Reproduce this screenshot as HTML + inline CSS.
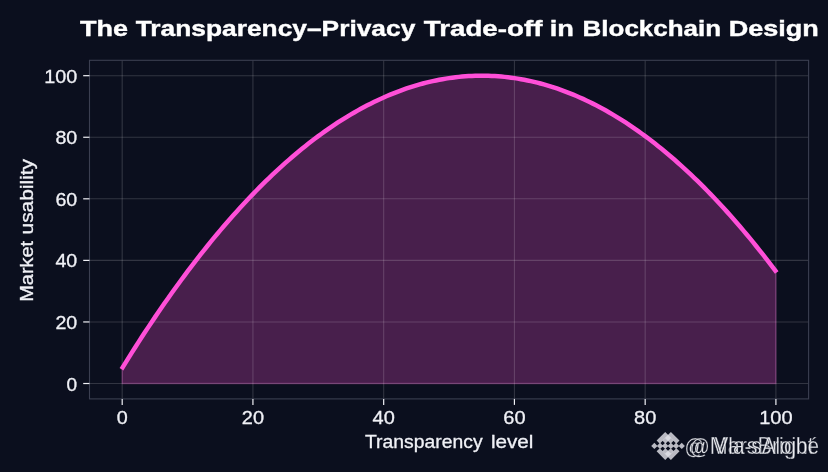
<!DOCTYPE html>
<html lang="en">
<head>
<meta charset="utf-8">
<title>The Transparency–Privacy Trade-off in Blockchain Design</title>
<style>
  html, body { margin: 0; padding: 0; background: #0b0f1e; }
  body { width: 828px; height: 472px; overflow: hidden; font-family: "Liberation Sans", sans-serif; }
  svg { display: block; will-change: transform; }
  text { font-family: "Liberation Sans", sans-serif; fill: #f0f1f6; }
  .title { font-weight: bold; font-size: 22.4px; fill: #ffffff; stroke: #ffffff; stroke-width: 0.4px; }
  .tick  { font-size: 18.5px; stroke: #f0f1f6; stroke-width: 0.3px; }
  .wm    { fill: #f2f3f7; fill-opacity: 0.92; }
  .label { font-size: 18.2px; stroke: #f0f1f6; stroke-width: 0.3px; }
</style>
</head>
<body>
<svg width="828" height="472" viewBox="0 0 828 472">
  <rect x="0" y="0" width="828" height="472" fill="#0b0f1e"/>
  <polygon points="122.19,383.51 122.19,368.12 125.46,362.83 128.72,357.58 131.99,352.39 135.26,347.24 138.53,342.14 141.80,337.09 145.07,332.08 148.34,327.13 151.60,322.22 154.87,317.37 158.14,312.56 161.41,307.80 164.68,303.08 167.95,298.42 171.22,293.80 174.48,289.24 177.75,284.72 181.02,280.24 184.29,275.82 187.56,271.45 190.83,267.12 194.10,262.84 197.37,258.62 200.63,254.43 203.90,250.30 207.17,246.22 210.44,242.18 213.71,238.19 216.98,234.25 220.25,230.36 223.51,226.52 226.78,222.73 230.05,218.98 233.32,215.28 236.59,211.63 239.86,208.03 243.13,204.48 246.39,200.98 249.66,197.52 252.93,194.11 256.20,190.75 259.47,187.44 262.74,184.18 266.01,180.96 269.27,177.80 272.54,174.68 275.81,171.61 279.08,168.59 282.35,165.62 285.62,162.69 288.89,159.82 292.16,156.99 295.42,154.21 298.69,151.48 301.96,148.80 305.23,146.16 308.50,143.58 311.77,141.04 315.04,138.55 318.30,136.11 321.57,133.72 324.84,131.37 328.11,129.08 331.38,126.83 334.65,124.63 337.92,122.48 341.19,120.38 344.45,118.32 347.72,116.32 350.99,114.36 354.26,112.45 357.53,110.59 360.80,108.78 364.07,107.01 367.33,105.30 370.60,103.63 373.87,102.01 377.14,100.44 380.41,98.92 383.68,97.44 386.95,96.02 390.21,94.64 393.48,93.31 396.75,92.03 400.02,90.80 403.29,89.61 406.56,88.48 409.83,87.39 413.10,86.35 416.36,85.36 419.63,84.42 422.90,83.52 426.17,82.68 429.44,81.88 432.71,81.13 435.98,80.43 439.24,79.78 442.51,79.17 445.78,78.62 449.05,78.11 452.32,77.65 455.59,77.24 458.86,76.88 462.12,76.56 465.39,76.30 468.66,76.08 471.93,75.91 475.20,75.79 478.47,75.72 481.74,75.69 485.01,75.72 488.27,75.79 491.54,75.91 494.81,76.08 498.08,76.30 501.35,76.56 504.62,76.88 507.89,77.24 511.15,77.65 514.42,78.11 517.69,78.62 520.96,79.17 524.23,79.78 527.50,80.43 530.77,81.13 534.03,81.88 537.30,82.68 540.57,83.52 543.84,84.42 547.11,85.36 550.38,86.35 553.65,87.39 556.91,88.48 560.18,89.61 563.45,90.80 566.72,92.03 569.99,93.31 573.26,94.64 576.53,96.02 579.80,97.44 583.06,98.92 586.33,100.44 589.60,102.01 592.87,103.63 596.14,105.30 599.41,107.01 602.68,108.78 605.94,110.59 609.21,112.45 612.48,114.36 615.75,116.32 619.02,118.32 622.29,120.38 625.56,122.48 628.83,124.63 632.09,126.83 635.36,129.08 638.63,131.37 641.90,133.72 645.17,136.11 648.44,138.55 651.71,141.04 654.97,143.58 658.24,146.16 661.51,148.80 664.78,151.48 668.05,154.21 671.32,156.99 674.59,159.82 677.85,162.69 681.12,165.62 684.39,168.59 687.66,171.61 690.93,174.68 694.20,177.80 697.47,180.96 700.74,184.18 704.00,187.44 707.27,190.75 710.54,194.11 713.81,197.52 717.08,200.98 720.35,204.48 723.62,208.03 726.88,211.63 730.15,215.28 733.42,218.98 736.69,222.73 739.96,226.52 743.23,230.36 746.50,234.25 749.76,238.19 753.03,242.18 756.30,246.22 759.57,250.30 762.84,254.43 766.11,258.62 769.38,262.84 772.64,267.12 775.91,271.45 775.91,383.51" fill="#ff4fd8" fill-opacity="0.25" stroke="#ff4fd8" stroke-opacity="0.25" stroke-width="1.3"/>
  <g stroke="rgba(255,255,255,0.16)" stroke-width="1.1" fill="none">
    <line x1="122.19" y1="60.3" x2="122.19" y2="398.9"/>
    <line x1="252.93" y1="60.3" x2="252.93" y2="398.9"/>
    <line x1="383.68" y1="60.3" x2="383.68" y2="398.9"/>
    <line x1="514.42" y1="60.3" x2="514.42" y2="398.9"/>
    <line x1="645.17" y1="60.3" x2="645.17" y2="398.9"/>
    <line x1="775.91" y1="60.3" x2="775.91" y2="398.9"/>
    <line x1="89.5" y1="383.51" x2="808.6" y2="383.51"/>
    <line x1="89.5" y1="321.95" x2="808.6" y2="321.95"/>
    <line x1="89.5" y1="260.38" x2="808.6" y2="260.38"/>
    <line x1="89.5" y1="198.82" x2="808.6" y2="198.82"/>
    <line x1="89.5" y1="137.25" x2="808.6" y2="137.25"/>
    <line x1="89.5" y1="75.69" x2="808.6" y2="75.69"/>
  </g>
  <polyline points="121.50,369.22 122.19,368.12 125.46,362.83 128.72,357.58 131.99,352.39 135.26,347.24 138.53,342.14 141.80,337.09 145.07,332.08 148.34,327.13 151.60,322.22 154.87,317.37 158.14,312.56 161.41,307.80 164.68,303.08 167.95,298.42 171.22,293.80 174.48,289.24 177.75,284.72 181.02,280.24 184.29,275.82 187.56,271.45 190.83,267.12 194.10,262.84 197.37,258.62 200.63,254.43 203.90,250.30 207.17,246.22 210.44,242.18 213.71,238.19 216.98,234.25 220.25,230.36 223.51,226.52 226.78,222.73 230.05,218.98 233.32,215.28 236.59,211.63 239.86,208.03 243.13,204.48 246.39,200.98 249.66,197.52 252.93,194.11 256.20,190.75 259.47,187.44 262.74,184.18 266.01,180.96 269.27,177.80 272.54,174.68 275.81,171.61 279.08,168.59 282.35,165.62 285.62,162.69 288.89,159.82 292.16,156.99 295.42,154.21 298.69,151.48 301.96,148.80 305.23,146.16 308.50,143.58 311.77,141.04 315.04,138.55 318.30,136.11 321.57,133.72 324.84,131.37 328.11,129.08 331.38,126.83 334.65,124.63 337.92,122.48 341.19,120.38 344.45,118.32 347.72,116.32 350.99,114.36 354.26,112.45 357.53,110.59 360.80,108.78 364.07,107.01 367.33,105.30 370.60,103.63 373.87,102.01 377.14,100.44 380.41,98.92 383.68,97.44 386.95,96.02 390.21,94.64 393.48,93.31 396.75,92.03 400.02,90.80 403.29,89.61 406.56,88.48 409.83,87.39 413.10,86.35 416.36,85.36 419.63,84.42 422.90,83.52 426.17,82.68 429.44,81.88 432.71,81.13 435.98,80.43 439.24,79.78 442.51,79.17 445.78,78.62 449.05,78.11 452.32,77.65 455.59,77.24 458.86,76.88 462.12,76.56 465.39,76.30 468.66,76.08 471.93,75.91 475.20,75.79 478.47,75.72 481.74,75.69 485.01,75.72 488.27,75.79 491.54,75.91 494.81,76.08 498.08,76.30 501.35,76.56 504.62,76.88 507.89,77.24 511.15,77.65 514.42,78.11 517.69,78.62 520.96,79.17 524.23,79.78 527.50,80.43 530.77,81.13 534.03,81.88 537.30,82.68 540.57,83.52 543.84,84.42 547.11,85.36 550.38,86.35 553.65,87.39 556.91,88.48 560.18,89.61 563.45,90.80 566.72,92.03 569.99,93.31 573.26,94.64 576.53,96.02 579.80,97.44 583.06,98.92 586.33,100.44 589.60,102.01 592.87,103.63 596.14,105.30 599.41,107.01 602.68,108.78 605.94,110.59 609.21,112.45 612.48,114.36 615.75,116.32 619.02,118.32 622.29,120.38 625.56,122.48 628.83,124.63 632.09,126.83 635.36,129.08 638.63,131.37 641.90,133.72 645.17,136.11 648.44,138.55 651.71,141.04 654.97,143.58 658.24,146.16 661.51,148.80 664.78,151.48 668.05,154.21 671.32,156.99 674.59,159.82 677.85,162.69 681.12,165.62 684.39,168.59 687.66,171.61 690.93,174.68 694.20,177.80 697.47,180.96 700.74,184.18 704.00,187.44 707.27,190.75 710.54,194.11 713.81,197.52 717.08,200.98 720.35,204.48 723.62,208.03 726.88,211.63 730.15,215.28 733.42,218.98 736.69,222.73 739.96,226.52 743.23,230.36 746.50,234.25 749.76,238.19 753.03,242.18 756.30,246.22 759.57,250.30 762.84,254.43 766.11,258.62 769.38,262.84 772.64,267.12 775.91,271.45 776.70,272.49" fill="none" stroke="#ff4fd8" stroke-width="4.5" stroke-linecap="butt" stroke-linejoin="round"/>
  <rect x="89.5" y="60.3" width="719.10" height="338.60" fill="none" stroke="#3b3f51" stroke-width="1.1"/>
  <g stroke="#f0f1f6" stroke-width="1.2">
    <line x1="122.19" y1="398.9" x2="122.19" y2="404.9"/>
    <line x1="252.93" y1="398.9" x2="252.93" y2="404.9"/>
    <line x1="383.68" y1="398.9" x2="383.68" y2="404.9"/>
    <line x1="514.42" y1="398.9" x2="514.42" y2="404.9"/>
    <line x1="645.17" y1="398.9" x2="645.17" y2="404.9"/>
    <line x1="775.91" y1="398.9" x2="775.91" y2="404.9"/>
    <line x1="83.2" y1="383.51" x2="89.5" y2="383.51"/>
    <line x1="83.2" y1="321.95" x2="89.5" y2="321.95"/>
    <line x1="83.2" y1="260.38" x2="89.5" y2="260.38"/>
    <line x1="83.2" y1="198.82" x2="89.5" y2="198.82"/>
    <line x1="83.2" y1="137.25" x2="89.5" y2="137.25"/>
    <line x1="83.2" y1="75.69" x2="89.5" y2="75.69"/>
  </g>
  <text class="tick" x="122.19" y="424.2" text-anchor="middle" textLength="11.0" lengthAdjust="spacingAndGlyphs">0</text>
  <text class="tick" x="252.93" y="424.2" text-anchor="middle" textLength="22.2" lengthAdjust="spacingAndGlyphs">20</text>
  <text class="tick" x="383.68" y="424.2" text-anchor="middle" textLength="22.2" lengthAdjust="spacingAndGlyphs">40</text>
  <text class="tick" x="514.42" y="424.2" text-anchor="middle" textLength="22.2" lengthAdjust="spacingAndGlyphs">60</text>
  <text class="tick" x="645.17" y="424.2" text-anchor="middle" textLength="22.2" lengthAdjust="spacingAndGlyphs">80</text>
  <text class="tick" x="775.91" y="424.2" text-anchor="middle" textLength="33.4" lengthAdjust="spacingAndGlyphs">100</text>
  <text class="tick" x="77.2" y="390.61" text-anchor="end" textLength="10.6" lengthAdjust="spacingAndGlyphs">0</text>
  <text class="tick" x="77.2" y="329.05" text-anchor="end" textLength="21.8" lengthAdjust="spacingAndGlyphs">20</text>
  <text class="tick" x="77.2" y="267.48" text-anchor="end" textLength="21.8" lengthAdjust="spacingAndGlyphs">40</text>
  <text class="tick" x="77.2" y="205.92" text-anchor="end" textLength="21.8" lengthAdjust="spacingAndGlyphs">60</text>
  <text class="tick" x="77.2" y="144.35" text-anchor="end" textLength="21.8" lengthAdjust="spacingAndGlyphs">80</text>
  <text class="tick" x="77.2" y="82.79" text-anchor="end" textLength="33.0" lengthAdjust="spacingAndGlyphs">100</text>
  <text class="label" y="447.5"><tspan x="364.9" textLength="117.7" lengthAdjust="spacingAndGlyphs">Transparency</tspan> <tspan x="490.9" textLength="42.5" lengthAdjust="spacingAndGlyphs">level</tspan></text>
  <text class="label" transform="translate(32.8 300.4) rotate(-90)" y="0"><tspan x="-1.4" textLength="60.9" lengthAdjust="spacingAndGlyphs">Market</tspan> <tspan x="66.0" textLength="75.3" lengthAdjust="spacingAndGlyphs">usability</tspan></text>
  <text class="title" y="36.2"><tspan x="80.0" textLength="48.0" lengthAdjust="spacingAndGlyphs">The</tspan> <tspan x="135.7" textLength="279.6" lengthAdjust="spacingAndGlyphs">Transparency–Privacy</tspan> <tspan x="423.8" textLength="118.6" lengthAdjust="spacingAndGlyphs">Trade-off</tspan> <tspan x="549.8" textLength="24.2" lengthAdjust="spacingAndGlyphs">in</tspan> <tspan x="582.6" textLength="138.5" lengthAdjust="spacingAndGlyphs">Blockchain</tspan> <tspan x="728.7" textLength="90.2" lengthAdjust="spacingAndGlyphs">Design</tspan> </text>
  <g id="watermark">
    <g fill="#e0e1e8" fill-opacity="0.82">
      <path transform="translate(651.2 431.9) scale(0.2212)" d="M38.73 53.2l24.59-24.58 24.6 24.6 14.3-14.31L63.32 0l-38.9 38.9zM0 63.31l14.3-14.31 14.31 14.31-14.31 14.3zM38.73 73.41l24.59 24.59 24.6-24.6 14.31 14.29-38.9 38.91-38.91-38.88zM98 63.31l14.3-14.31 14.31 14.3-14.31 14.32zM77.83 63.3L63.32 48.78 52.59 59.51l-1.24 1.23-2.54 2.54 14.51 14.5 14.51-14.47z"/>
      <path transform="translate(656.9 431.9) scale(0.2212)" d="M38.73 53.2l24.59-24.58 24.6 24.6 14.3-14.31L63.32 0l-38.9 38.9zM0 63.31l14.3-14.31 14.31 14.31-14.31 14.3zM38.73 73.41l24.59 24.59 24.6-24.6 14.31 14.29-38.9 38.91-38.91-38.88zM98 63.31l14.3-14.31 14.31 14.3-14.31 14.32zM77.83 63.3L63.32 48.78 52.59 59.51l-1.24 1.23-2.54 2.54 14.51 14.5 14.51-14.47z"/>
    </g>
    <g font-size="23.6" stroke="#0b0f1e" stroke-width="0.35" stroke-opacity="0.8">
      <text class="wm" x="684.6" y="453.6" font-size="22" textLength="20" lengthAdjust="spacingAndGlyphs">@</text>
      <text class="wm" x="709.8" y="454.2" textLength="104" lengthAdjust="spacingAndGlyphs">MarsBright</text>
      <text class="wm" x="689.8" y="453.6" font-size="22" textLength="20" lengthAdjust="spacingAndGlyphs">@</text>
      <text class="wm" x="714.6" y="454.2" textLength="104.5" lengthAdjust="spacingAndGlyphs">Vla-sAlojbé</text>
    </g>
  </g>
</svg>
</body>
</html>
